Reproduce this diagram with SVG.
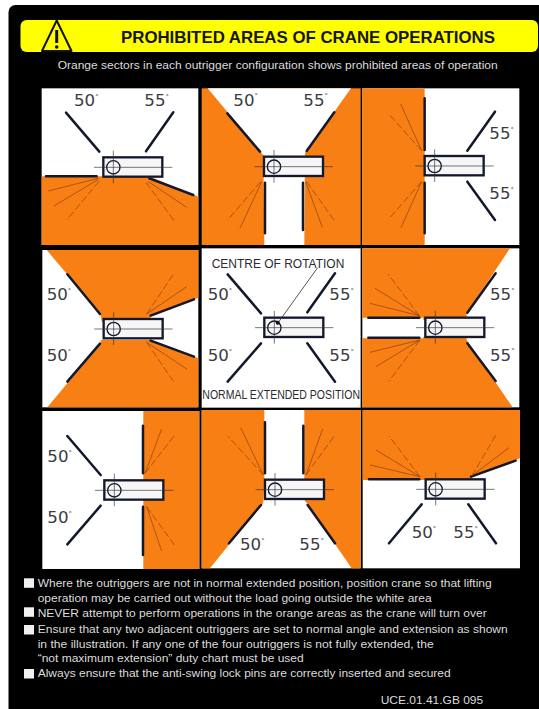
<svg xmlns="http://www.w3.org/2000/svg" xmlns:xlink="http://www.w3.org/1999/xlink" width="539" height="709" viewBox="0 0 539 709">
<style>
.w{fill:#fff}
.o{fill:#f77f14}
.r{stroke:#14182c;stroke-width:7.5;fill:none;stroke-linecap:round}
.a{stroke:#8a3c14;stroke-width:2;fill:none}
.d{stroke:#8a3c14;stroke-width:2;fill:none;stroke-dasharray:22 8}
.n{font-family:"DejaVu Sans",sans-serif;font-size:50px;fill:#3c3c44}
.n tspan{font-size:20px}
.t{font-family:"Liberation Sans",Arial,sans-serif;fill:#dcdcdc;font-size:11.5px}
.l{font-family:"Liberation Sans",Arial,sans-serif;fill:#2a2a30;font-size:36px}
.b{fill:#f0f0f0}
</style>
<defs>
<g id="crane">
<rect x="-30" y="-30" width="177" height="58" fill="#f6f6f6" stroke="#14182c" stroke-width="7"/>
<circle r="20" cx="0" cy="0" fill="none" stroke="#14182c" stroke-width="4"/>
<path d="M-58 0H177M0-50V48" stroke="#30323c" stroke-width="2" fill="none"/>
</g>
</defs>
<rect width="539" height="709" fill="#fff"/>
<rect x="8.5" y="5" width="540" height="720" rx="7" fill="#000"/>
<g id="header">
<rect x="20.5" y="20" width="517.500" height="32" rx="6" fill="#ffff00"/>
<path d="M56.700 20.500L42 51H71.500Z" fill="#ffff00" stroke="#111" stroke-width="2" stroke-linejoin="round"/>
<path d="M56.700 30V43" stroke="#111" stroke-width="3"/>
<circle cx="56.700" cy="47" r="1.800" fill="#111"/>
<text x="121" y="43" font-family="Liberation Sans, Arial, sans-serif" font-weight="700" font-size="16.500" fill="#15150a" textLength="374" lengthAdjust="spacingAndGlyphs">PROHIBITED AREAS OF CRANE OPERATIONS</text>
<text class="t" x="57.700" y="68.500" textLength="440" lengthAdjust="spacingAndGlyphs">Orange sectors in each outrigger configuration shows prohibited areas of operation</text>
</g>
<g id="p1" transform="translate(30 80) scale(.3333)">
<rect class="w" x="35" y="25" width="470" height="470"/>
<path class="o" d="M35 289H358L505 350V495H35Z"/>
<use xlink:href="#crane" href="#crane" x="250" y="262"/>
<path class="r" d="M108 98L208 215M430 97L348 214M48 289H200M358 295L490 345"/>
<path class="a" d="M205 295L55 333M205 298L72 378M355 305L470 382"/><path class="d" d="M208 303L110 420M348 307L432 422"/>
<text class="n" x="132" y="78">50<tspan dy="-22">°</tspan></text><text class="n" x="343" y="78">55<tspan dy="-22">°</tspan></text>
</g>
<g id="p2" transform="translate(195 80) scale(.3333)">
<rect class="o" x="20" y="25" width="477" height="470"/>
<path class="w" d="M38 25H468L330 220L328 495H208L205 225Z"/>
<use xlink:href="#crane" href="#crane" x="237" y="260"/>
<path class="r" d="M97 100L195 215M418 97L335 213M210 308V460M324 308V450"/>
<path class="a" d="M200 305L135 445M332 305L382 442"/><path class="d" d="M197 305L98 420M335 305L418 422"/>
<text class="n" x="115" y="77">50<tspan dy="-22">°</tspan></text><text class="n" x="325" y="77">55<tspan dy="-22">°</tspan></text>
</g>
<g id="p3" transform="translate(360 80) scale(.3333)">
<rect class="w" x="7" y="25" width="471" height="470"/>
<rect class="o" x="7" y="25" width="187" height="470"/>
<use xlink:href="#crane" href="#crane" x="224" y="258"/>
<path class="r" d="M194 55V210M194 308V460M405 95L322 212M322 305L405 420"/>
<path class="a" d="M185 212L122 72M185 305L123 443"/><path class="d" d="M185 212L85 100M185 305L85 418"/>
<text class="n" x="388" y="178">55<tspan dy="-22">°</tspan></text><text class="n" x="388" y="357">55<tspan dy="-22">°</tspan></text>
</g>
<g id="p4" transform="translate(30 245) scale(.3333)">
<rect class="w" x="37" y="15" width="468" height="472"/>
<path class="o" d="M50 15H505V158L362 212V230H215L212 207Z"/>
<path class="o" d="M52 487H505V340L360 285H212V295Z"/>
<use xlink:href="#crane" href="#crane" x="251" y="252"/>
<path class="r" d="M112 88L210 207M112 410L210 296M362 212L492 163M362 287L492 335"/>
<path class="a" d="M350 207L470 125M350 292L470 372"/><path class="d" d="M350 207L432 85M350 292L432 412"/>
<text class="n" x="50" y="165">50<tspan dy="-22">°</tspan></text><text class="n" x="50" y="348">50<tspan dy="-22">°</tspan></text>
</g>
<g id="p5" transform="translate(195 245) scale(.3333)">
<rect class="w" x="20" y="10" width="477" height="478"/>
<use xlink:href="#crane" href="#crane" x="238" y="248"/>
<path class="r" d="M98 88L198 205M420 85L337 202M98 410L198 295M420 410L337 295"/>
<path d="M368 68L248 235" stroke="#333" stroke-width="2.500" fill="none"/>
<circle cx="248" cy="233" r="6" fill="#111"/>
<text class="l" x="50" y="68" textLength="398" lengthAdjust="spacingAndGlyphs">CENTRE OF ROTATION</text>
<text class="l" x="22" y="462" textLength="473" lengthAdjust="spacingAndGlyphs">NORMAL EXTENDED POSITION</text>
<text class="n" x="38" y="165">50<tspan dy="-22">°</tspan></text><text class="n" x="403" y="165">55<tspan dy="-22">°</tspan></text>
<text class="n" x="38" y="348">50<tspan dy="-22">°</tspan></text><text class="n" x="403" y="348">55<tspan dy="-22">°</tspan></text>
</g>
<g id="p6" transform="translate(360 245) scale(.3333)">
<rect class="w" x="7" y="10" width="471" height="477"/>
<path class="o" d="M7 10H450L320 205V225H190V218H7Z"/>
<path class="o" d="M7 280H190V275H320V285L458 487H7Z"/>
<use xlink:href="#crane" href="#crane" x="226" y="248"/>
<path class="r" d="M25 218H178M25 278H178M407 85L322 203M322 295L407 408"/>
<path class="a" d="M178 212L30 175M178 212L45 130M180 285L30 322M180 285L48 365"/><path class="d" d="M178 212L85 88M180 285L87 408"/>
<text class="n" x="390" y="165">55<tspan dy="-22">°</tspan></text><text class="n" x="390" y="347">55<tspan dy="-22">°</tspan></text>
</g>
<g id="p7" transform="translate(30 405) scale(.3333)">
<rect class="w" x="37" y="18" width="471" height="474"/>
<rect class="o" x="340" y="18" width="168" height="474"/>
<use xlink:href="#crane" href="#crane" x="253" y="256"/>
<path class="r" d="M112 93L212 210M112 418L212 302M339 62V205M339 305V450"/>
<path class="a" d="M345 205L395 72M350 305L395 438"/><path class="d" d="M345 205L433 92M350 305L433 420"/>
<text class="n" x="52" y="172">50<tspan dy="-22">°</tspan></text><text class="n" x="52" y="355">50<tspan dy="-22">°</tspan></text>
</g>
<g id="p8" transform="translate(195 405) scale(.3333)">
<rect class="w" x="20" y="15" width="477" height="475"/>
<path class="o" d="M20 15H208V225L205 295L200 298L45 490H20Z"/>
<path class="o" d="M328 15H497V490H470L338 298L328 285V225Z"/>
<use xlink:href="#crane" href="#crane" x="240" y="254"/>
<path class="r" d="M210 52V205M325 62V205M102 415L198 300M420 415L338 300"/>
<path class="a" d="M205 210L137 68M333 210L383 72"/><path class="d" d="M205 210L100 95M333 210L420 90"/>
<text class="n" x="135" y="435">50<tspan dy="-22">°</tspan></text><text class="n" x="313" y="435">55<tspan dy="-22">°</tspan></text>
</g>
<g id="p9" transform="translate(360 405) scale(.3333)">
<rect class="w" x="8" y="15" width="472" height="475"/>
<path class="o" d="M8 15H480V160L335 218V225H8Z"/>
<use xlink:href="#crane" href="#crane" x="227" y="253"/>
<path class="r" d="M27 223H178M333 215L467 167M185 298L87 415M325 298L408 415"/>
<path class="a" d="M180 215L30 180M180 215L48 135M335 213L447 128"/><path class="d" d="M180 215L87 93M335 213L408 90"/>
<text class="n" x="155" y="400">50<tspan dy="-22">°</tspan></text><text class="n" x="280" y="400">55<tspan dy="-22">°</tspan></text>
</g>
<g id="notes">
<rect class="b" x="24" y="578.300" width="10" height="9.500"/>
<rect class="b" x="24" y="607.300" width="10" height="9.500"/>
<rect class="b" x="24" y="625" width="10" height="9.500"/>
<rect class="b" x="24" y="669" width="10" height="9.500"/>
<text class="t" x="37.700" y="587" textLength="454" lengthAdjust="spacingAndGlyphs">Where the outriggers are not in normal extended position, position crane so that lifting</text>
<text class="t" x="37.700" y="601.700" textLength="394" lengthAdjust="spacingAndGlyphs">operation may be carried out without the load going outside the white area</text>
<text class="t" x="37.700" y="616.700" textLength="449" lengthAdjust="spacingAndGlyphs">NEVER attempt to perform operations in the orange areas as the crane will turn over</text>
<text class="t" x="37.700" y="633.300" textLength="470" lengthAdjust="spacingAndGlyphs">Ensure that any two adjacent outriggers are set to normal angle and extension as shown</text>
<text class="t" x="37.700" y="647.700" textLength="396" lengthAdjust="spacingAndGlyphs">in the illustration.  If any one of the four outriggers is not fully extended, the</text>
<text class="t" x="37.700" y="662.300" textLength="266" lengthAdjust="spacingAndGlyphs">“not maximum extension” duty chart must be used</text>
<text class="t" x="37.700" y="677.300" textLength="413" lengthAdjust="spacingAndGlyphs">Always ensure that the anti-swing lock pins are correctly inserted and secured</text>
<text class="t" x="380.700" y="704.300" textLength="102.500" lengthAdjust="spacingAndGlyphs">UCE.01.41.GB 095</text>
</g>
</svg>
